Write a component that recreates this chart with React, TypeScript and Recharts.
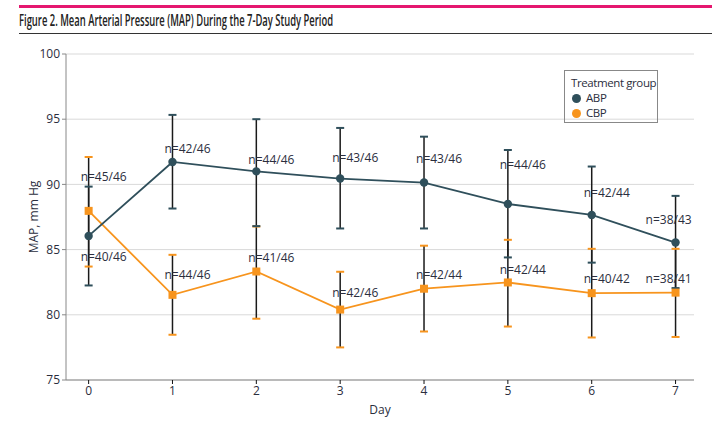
import React from "react";
import { ComposedChart, Line, XAxis, YAxis, CartesianGrid, ErrorBar, LabelList } from "recharts";

const days = [0, 1, 2, 3, 4, 5, 6, 7];
const abpMean = [86.05, 91.72, 91.0, 90.45, 90.14, 88.5, 87.66, 85.54];
const abpLow = [82.25, 88.15, 86.8, 86.62, 86.62, 84.4, 84.0, 82.05];
const abpHigh = [89.83, 95.33, 95.0, 94.33, 93.66, 92.64, 91.37, 89.12];
const cbpMean = [87.97, 81.53, 83.32, 80.4, 82.0, 82.48, 81.66, 81.7];
const cbpLow = [83.7, 78.47, 79.7, 77.5, 78.72, 79.1, 78.26, 78.3];
const cbpHigh = [92.1, 84.6, 86.77, 83.3, 85.3, 85.75, 85.06, 85.06];
const abpN = ["n=40/46", "n=42/46", "n=44/46", "n=43/46", "n=43/46", "n=44/46", "n=42/44", "n=38/43"];
const cbpN = ["n=45/46", "n=44/46", "n=41/46", "n=42/46", "n=42/44", "n=42/44", "n=40/42", "n=38/41"];
const yTicks = [75, 80, 85, 90, 95, 100];

const ABP = "#2f4f5b";
const CBP = "#f7941d";
const TEXT = "#2b2e3d";
const FONT = "'Open Sans', sans-serif";

// hand-placed n= labels (pixel offsets from the point)
const abpLabelDy = [21, -13, -12, -21, -24, -39, -22, -23];
const cbpLabelDy = [-34, -20, -14, -17, -14, -13, -15, -14];
const labelDx = [-8, -8, -8, -8, -8, -8, -8, -30];

const data = days.map((day, i) => ({
  day,
  abp: abpMean[i],
  abpHigh: abpHigh[i],
  abpLow: abpLow[i],
  abpErr: [abpMean[i] - abpLow[i], abpHigh[i] - abpMean[i]],
  abpN: abpN[i],
  cbp: cbpMean[i],
  cbpHigh: cbpHigh[i],
  cbpLow: cbpLow[i],
  cbpErr: [cbpMean[i] - cbpLow[i], cbpHigh[i] - cbpMean[i]],
  cbpN: cbpN[i],
}));

const capDot = (color: string) => (props: any) => {
  const { cx, cy, index } = props;
  if (cx == null || cy == null) return <g key={index} />;
  return <line key={index} x1={cx - 4} x2={cx + 4} y1={cy} y2={cy} stroke={color} strokeWidth={2} />;
};

const squareDot = (props: any) => {
  const { cx, cy, index } = props;
  return <rect key={index} x={cx - 4} y={cy - 4} width={8} height={8} fill={CBP} />;
};

const nLabel = (dyArr: number[]) => (props: any) => {
  const { x, y, index, value } = props;
  return (
    <text
      x={x + labelDx[index]}
      y={y + dyArr[index]}
      dominantBaseline="central"
      fontSize={12}
      fontFamily={FONT}
      fill={TEXT}
    >
      {value}
    </text>
  );
};

export default function App() {
  return (
    <div style={{ position: "absolute", left: 0, top: 0, width: 712, height: 442, background: "#fff", fontFamily: FONT }}>
      <div style={{ position: "absolute", left: 19, top: 5, width: 693, height: 3, background: "#e5176f" }} />
      <svg style={{ position: "absolute", left: 0, top: 0 }} width={712} height={40}>
        <text x={19} y={26} fontSize={15.5} fontWeight={600} fill="#222" fontFamily={FONT} textLength={314} lengthAdjust="spacingAndGlyphs">
          Figure 2. Mean Arterial Pressure (MAP) During the 7-Day Study Period
        </text>
        <line x1={19} x2={712} y1={33.5} y2={33.5} stroke="#333" strokeWidth={1} />
      </svg>
      <div style={{ position: "absolute", left: 0, top: 0 }}>
        <ComposedChart width={712} height={442} data={data} margin={{ top: 54, right: 18, bottom: 32, left: 20 }}>
          <CartesianGrid vertical={false} stroke="#d9d9d9" />
          <XAxis
            type="number"
            dataKey="day"
            domain={[-0.27, 7.22]}
            ticks={days}
            stroke="#888"
            tickSize={4}
            tickLine={{ stroke: "#111" }}
            tick={{ fill: TEXT, fontSize: 12, fontFamily: FONT }}
            height={30}
            label={{
              content: (p: any) => (
                <text x={p.viewBox.x + p.viewBox.width / 2} y={409} textAnchor="middle" dominantBaseline="central" fontSize={12} fontFamily={FONT} fill={TEXT}>
                  Day
                </text>
              ),
            }}
          />
          <YAxis
            type="number"
            domain={[75, 100]}
            ticks={yTicks}
            stroke="#888"
            tickSize={4}
            tick={{ fill: TEXT, fontSize: 12, fontFamily: FONT }}
            width={46}
            label={{
              content: (p: any) => (
                <text
                  x={33}
                  y={p.viewBox.y + p.viewBox.height / 2}
                  transform={`rotate(-90 33 ${p.viewBox.y + p.viewBox.height / 2})`}
                  textAnchor="middle"
                  dominantBaseline="central"
                  fontSize={12}
                  fontFamily={FONT}
                  fill={TEXT}
                >
                  MAP, mm Hg
                </text>
              ),
            }}
          />
          {/* error bar stems */}
          <Line dataKey="cbp" stroke="none" dot={false} activeDot={false} isAnimationActive={false}>
            <ErrorBar dataKey="cbpErr" width={0} stroke="#1a1a1a" strokeWidth={1.5} isAnimationActive={false} />
          </Line>
          <Line dataKey="abp" stroke="none" dot={false} activeDot={false} isAnimationActive={false}>
            <ErrorBar dataKey="abpErr" width={0} stroke="#1a1a1a" strokeWidth={1.5} isAnimationActive={false} />
          </Line>
          {/* caps */}
          <Line dataKey="cbpHigh" stroke="none" dot={capDot(CBP)} activeDot={false} isAnimationActive={false} />
          <Line dataKey="cbpLow" stroke="none" dot={capDot(CBP)} activeDot={false} isAnimationActive={false} />
          <Line dataKey="abpHigh" stroke="none" dot={capDot(ABP)} activeDot={false} isAnimationActive={false} />
          <Line dataKey="abpLow" stroke="none" dot={capDot(ABP)} activeDot={false} isAnimationActive={false} />
          {/* series */}
          <Line dataKey="cbp" stroke={CBP} strokeWidth={1.8} dot={squareDot} activeDot={false} isAnimationActive={false}>
            <LabelList dataKey="cbpN" content={nLabel(cbpLabelDy)} />
          </Line>
          <Line dataKey="abp" stroke={ABP} strokeWidth={1.8} dot={{ r: 4.2, fill: ABP, stroke: ABP, strokeWidth: 0 }} activeDot={false} isAnimationActive={false}>
            <LabelList dataKey="abpN" content={nLabel(abpLabelDy)} />
          </Line>
        </ComposedChart>
      </div>
      <div
        style={{
          position: "absolute",
          left: 564,
          top: 70,
          width: 92,
          height: 51,
          border: "1px solid #888",
          fontSize: 11.5,
          color: TEXT,
          lineHeight: "14px",
          whiteSpace: "nowrap",
          letterSpacing: -0.4,
          boxSizing: "content-box",
        }}
      >
        <div style={{ position: "absolute", left: 6, top: 5 }}>Treatment group</div>
        <div style={{ position: "absolute", left: 7, top: 20, display: "flex", alignItems: "center" }}>
          <span style={{ width: 9, height: 9, borderRadius: "50%", background: ABP, marginRight: 5 }} />
          ABP
        </div>
        <div style={{ position: "absolute", left: 7, top: 35, display: "flex", alignItems: "center" }}>
          <span style={{ width: 9, height: 9, borderRadius: "50%", background: CBP, marginRight: 5 }} />
          CBP
        </div>
      </div>
    </div>
  );
}
